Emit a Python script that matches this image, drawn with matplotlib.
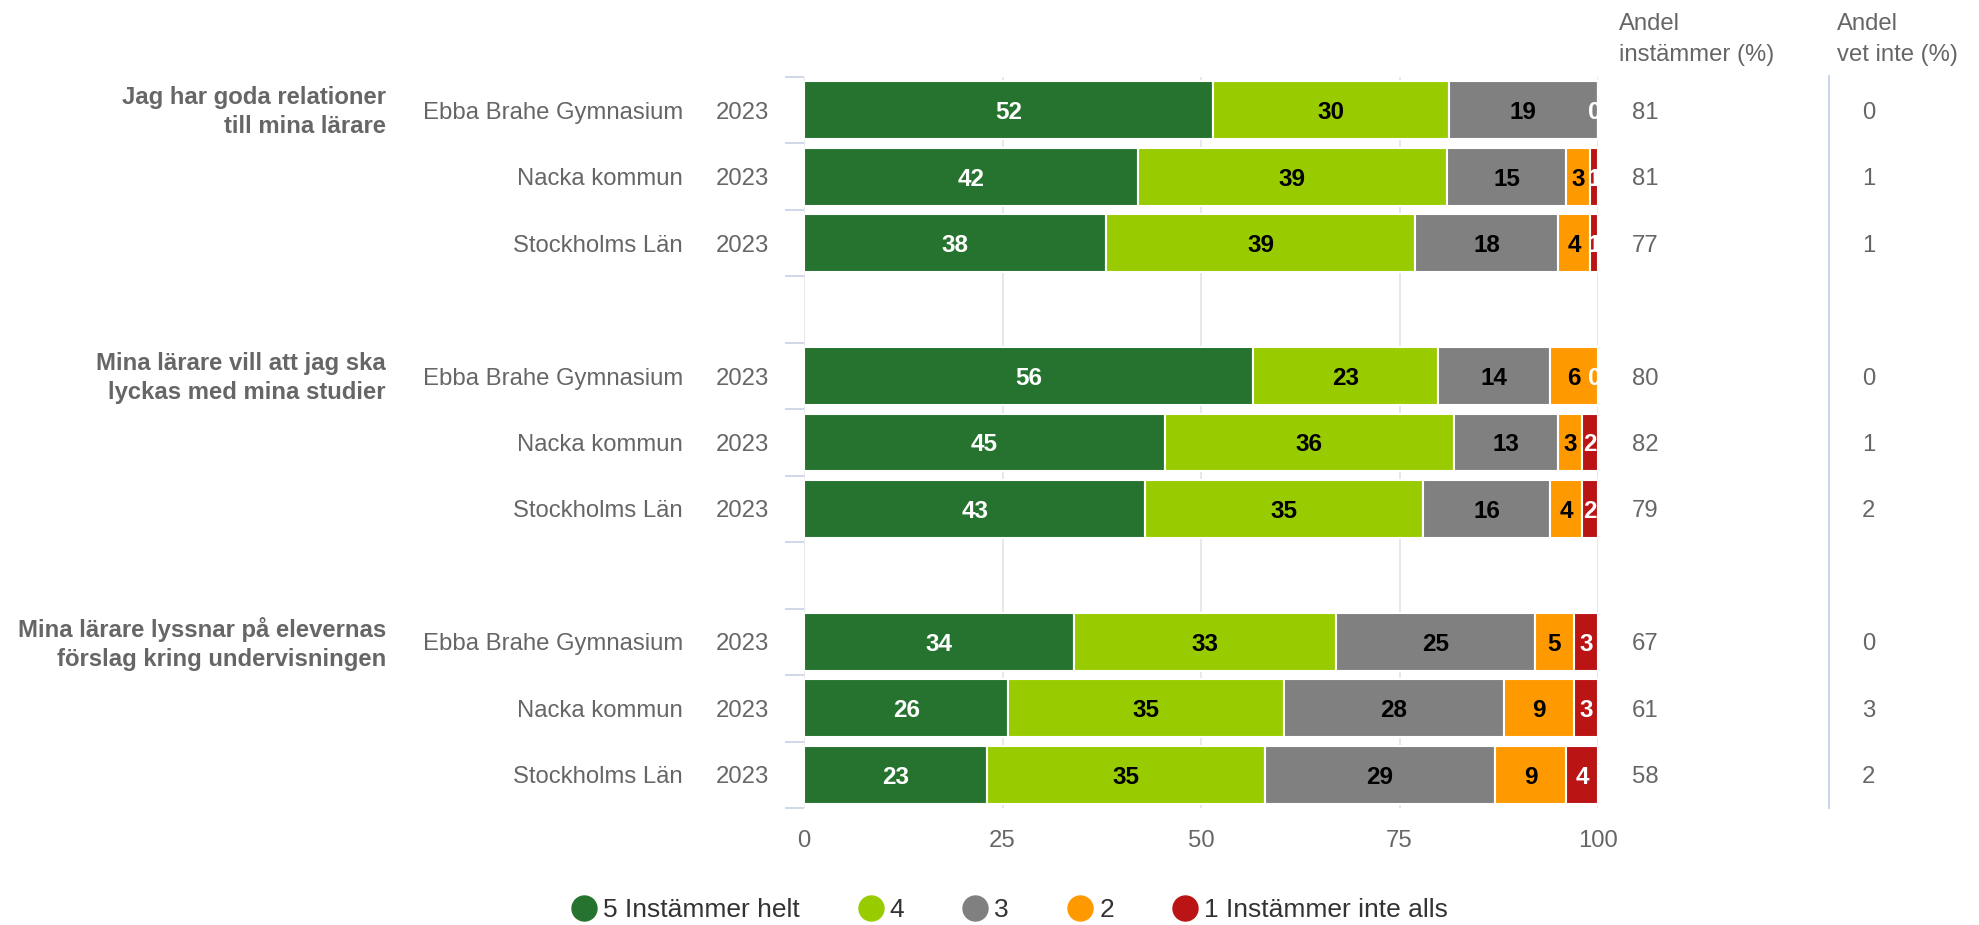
import numpy as np
import matplotlib.pyplot as plt
import matplotlib.transforms as mtransforms
from matplotlib.lines import Line2D

plt.rcParams['font.family'] = ['Liberation Sans', 'DejaVu Sans']

# Survey data (percent per answer category)
questions = ['Jag har goda relationer\ntill mina lärare',
             'Mina lärare vill att jag ska\nlyckas med mina studier',
             'Mina lärare lyssnar på elevernas\nförslag kring undervisningen']
units = ['Ebba Brahe Gymnasium', 'Nacka kommun', 'Stockholms Län']
year = '2023'

s5 = [52, 42, 38, 56, 45, 43, 34, 26, 23]
s4 = [30, 39, 39, 23, 36, 35, 33, 35, 35]
s3 = [19, 15, 18, 14, 13, 16, 25, 28, 29]
s2 = [0, 3, 4, 6, 3, 4, 5, 9, 9]
s1 = [0, 1, 1, 0, 2, 2, 3, 3, 4]
andel_instammer = [81, 81, 77, 80, 82, 79, 67, 61, 58]
andel_vet_inte = [0, 1, 1, 0, 1, 2, 0, 3, 2]

series_names = ['5 Instämmer helt', '4', '3', '2', '1 Instämmer inte alls']
colors = ['#26732f', '#99cc00', '#808080', '#ff9900', '#bb1414']
label_colors = ['white', 'black', 'black', 'black', 'white']

# row positions: 3 rows per question, one empty slot between groups
ypos = np.array([0, 1, 2, 4, 5, 6, 8, 9, 10])

fig = plt.figure(figsize=(19.79, 9.25), dpi=100)
ax = fig.add_axes([0.4063, 0.1265, 0.4012, 0.7903])

data = np.array([s5, s4, s3, s2, s1], dtype=float)
totals = data.sum(axis=0)
pct = data / totals * 100

grey = '#666666'
fs = 17.2
va = 'center_baseline'

left = np.zeros(len(ypos))
for i in range(5):
    ax.barh(ypos, pct[i], left=left, height=0.87, color=colors[i],
            edgecolor='white', linewidth=1.5, zorder=3)
    for j in range(len(ypos)):
        v = int(data[i, j])
        if v > 0:
            ax.text(left[j] + pct[i, j] / 2, ypos[j], str(v), ha='center', va=va,
                    fontsize=17.5, fontweight='bold', color=label_colors[i], zorder=4)
        elif i == 4:
            ax.text(99.6, ypos[j], '0', ha='center', va=va, fontsize=17.5,
                    fontweight='bold', color='white', zorder=4, clip_on=True)
    left += pct[i]

ax.set_xlim(0, 100)
ax.set_ylim(10.5, -0.5)
ax.set_xticks([0, 25, 50, 75, 100])
ax.grid(axis='x', color='#e6e6e6', linewidth=1.3, zorder=0)
ax.tick_params(axis='x', length=0, pad=16, labelsize=fs, labelcolor=grey)
ax.set_yticks(np.arange(-0.5, 11, 1))
ax.set_yticklabels([])
ax.tick_params(axis='y', length=14, width=1.3, color='#ccd6eb')
for sp in ax.spines.values():
    sp.set_visible(False)

# row labels
tr = mtransforms.blended_transform_factory(fig.transFigure, ax.transData)
for j, y in enumerate(ypos):
    ax.text(0.345, y, units[j % 3], transform=tr, ha='right', va=va,
            fontsize=fs, color=grey)
    ax.text(0.3886, y, year, transform=tr, ha='right', va=va,
            fontsize=fs, color=grey)
    ax.text(0.8247, y, str(andel_instammer[j]), transform=tr, ha='left', va=va,
            fontsize=fs, color=grey)
    ax.text(0.941, y, str(andel_vet_inte[j]), transform=tr, ha='left', va=va,
            fontsize=fs, color=grey)
for k, q in enumerate(questions):
    ax.text(0.195, ypos[k * 3] + 0.03, q, transform=tr, ha='right', va='center',
            fontsize=fs, fontweight='bold', color=grey, linespacing=1.3,
            multialignment='right')

# column headers
fig.text(0.818, 0.986, 'Andel\ninstämmer (%)', ha='left', va='top',
         fontsize=fs, color=grey, linespacing=1.55)
fig.text(0.928, 0.986, 'Andel\nvet inte (%)', ha='left', va='top',
         fontsize=fs, color=grey, linespacing=1.55)
fig.add_artist(Line2D([0.924, 0.924], [0.1265, 0.918], transform=fig.transFigure,
                      color='#ccd6eb', linewidth=1.5))

# legend
handles = [Line2D([], [], marker='o', linestyle='none', markersize=18,
                  markerfacecolor=c, markeredgecolor=c) for c in colors]
leg = fig.legend(handles, series_names, loc='center', bbox_to_anchor=(0.51, 0.016),
                 ncol=5, frameon=False, fontsize=19, handletextpad=0.22,
                 columnspacing=2.2, handlelength=1.0)
for t in leg.get_texts():
    t.set_color('#333333')

fig.savefig('out.png', dpi=100)
